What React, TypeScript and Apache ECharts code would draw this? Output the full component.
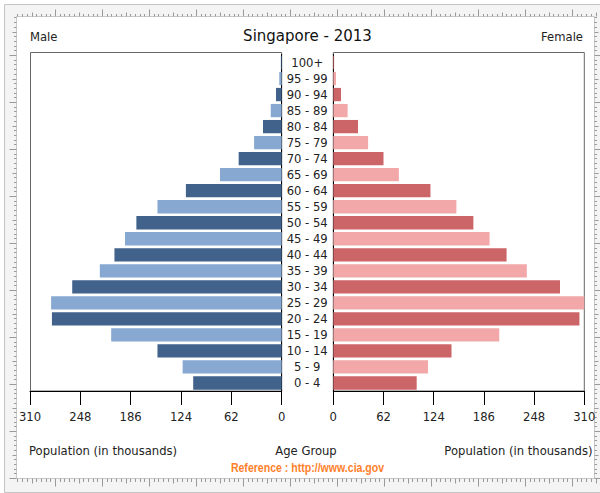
import React, { useEffect, useRef } from "react";
import * as echarts from "echarts";

const categories = [
  "0 - 4", "5 - 9", "10 - 14", "15 - 19", "20 - 24", "25 - 29", "30 - 34",
  "35 - 39", "40 - 44", "45 - 49", "50 - 54", "55 - 59", "60 - 64", "65 - 69",
  "70 - 74", "75 - 79", "80 - 84", "85 - 89", "90 - 94", "95 - 99", "100+",
];
const male = [109, 122, 153, 210, 283, 284, 258, 224, 206, 193, 179, 153, 118, 76, 53, 34, 23, 13.5, 7, 3, 1];
const female = [103, 117, 146, 205, 304, 310, 280, 239, 214, 193, 173, 152, 120, 81, 62, 43, 30.5, 17.7, 9.5, 3.3, 1];
const axisMax = 310;
const axisStep = 62;

const FONT = "DejaVu Sans";
const maleColors = ["#41628a", "#87a8d0"];
const femaleColors = ["#cc6567", "#f2a7a8"];

function rulerGraphics() {
  const els: any[] = [];
  const tickColor = "#9a9a9a";
  els.push({ type: "rect", shape: { x: 4.5, y: 4.5, width: 600, height: 488 }, style: { fill: "#f4f4f4", stroke: "#c4c4c4", lineWidth: 1 }, silent: true });
  els.push({ type: "rect", shape: { x: 16.5, y: 16.5, width: 578, height: 462 }, style: { fill: "#ffffff", stroke: "#c8c8c8", lineWidth: 1 }, silent: true });
  const step = 4.7;
  const start = 8;
  for (let i = 0; ; i++) {
    const x = start + i * step;
    if (x > 600) break;
    if (x < 17) continue;
    const m = i % 10;
    const len = m === 0 ? 7 : m === 5 ? 4 : 2.5;
    const xx = Math.round(x) + 0.5;
    els.push({ type: "line", shape: { x1: xx, y1: 16.5, x2: xx, y2: 16.5 - len }, style: { stroke: tickColor, lineWidth: 1 }, silent: true });
    els.push({ type: "line", shape: { x1: xx, y1: 478.5, x2: xx, y2: 478.5 + len + 1 }, style: { stroke: tickColor, lineWidth: 1 }, silent: true });
  }
  for (let i = 0; ; i++) {
    const y = start + i * step;
    if (y > 478) break;
    if (y < 17) continue;
    const m = i % 10;
    const len = m === 0 ? 7 : m === 5 ? 4 : 2.5;
    const yy = Math.round(y) + 0.5;
    els.push({ type: "line", shape: { x1: 16.5, y1: yy, x2: 16.5 - len, y2: yy }, style: { stroke: tickColor, lineWidth: 1 }, silent: true });
    els.push({ type: "line", shape: { x1: 594.5, y1: yy, x2: 594.5 + len, y2: yy }, style: { stroke: tickColor, lineWidth: 1 }, silent: true });
  }
  els.push({ type: "rect", shape: { x: 30.5, y: 52.5, width: 251.2, height: 338.5 }, style: { fill: "#ffffff", stroke: "#666", lineWidth: 1 }, silent: true });
  els.push({ type: "rect", shape: { x: 333.3, y: 52.5, width: 251, height: 338.5 }, style: { fill: "#ffffff", stroke: "#666", lineWidth: 1 }, silent: true });
  return els;
}

export default function App() {
  const ref = useRef<HTMLDivElement>(null);
  useEffect(() => {
    if (!ref.current) return;
    const chart = echarts.init(ref.current, null, { renderer: "svg" });
    const textStyle = { fill: "#222", font: `11.6px '${FONT}'` };
    const xAxisCommon = {
      type: "value", min: 0, max: axisMax, interval: axisStep,
      axisLine: { show: true, lineStyle: { color: "#000", width: 1 } },
      axisTick: { show: true, length: 14, lineStyle: { color: "#000" } },
      splitLine: { show: false },
      axisLabel: { color: "#222", fontSize: 11.6, fontFamily: FONT, margin: 20, showMinLabel: true, showMaxLabel: true },
    };
    const option: any = {
      animation: false,
      backgroundColor: "#ffffff",
      textStyle: { fontFamily: FONT },
      grid: [
        { left: 30, right: 318.3, top: 54.5, bottom: 102, show: false, containLabel: false },
        { left: 333.3, right: 15.7, top: 54.5, bottom: 102, show: false, containLabel: false },
      ],
      xAxis: [
        { ...xAxisCommon, gridIndex: 0, inverse: true },
        { ...xAxisCommon, gridIndex: 1 },
      ],
      yAxis: [
        {
          gridIndex: 0, type: "category", data: categories, position: "right",
          axisLine: { show: true, onZero: false, lineStyle: { color: "#000" } },
          axisTick: { show: false },
          axisLabel: { color: "#222", fontSize: 11.6, fontFamily: FONT, align: "center", margin: 25.5, interval: 0, padding: [7, 0, 0, 0] },
        },
        {
          gridIndex: 1, type: "category", data: categories, position: "left",
          axisLine: { show: true, onZero: false, lineStyle: { color: "#000" } },
          axisTick: { show: false },
          axisLabel: { show: false },
        },
      ],
      series: [
        {
          type: "bar", name: "Male", xAxisIndex: 0, yAxisIndex: 0, data: male,
          barCategoryGap: "17%",
          itemStyle: { color: (p: any) => maleColors[p.dataIndex % 2] },
        },
        {
          type: "bar", name: "Female", xAxisIndex: 1, yAxisIndex: 1, data: female,
          barCategoryGap: "17%",
          itemStyle: { color: (p: any) => femaleColors[p.dataIndex % 2] },
        },
      ],
      graphic: [
        { type: "group", z: -10, children: rulerGraphics(), silent: true },
        { type: "text", x: 30, y: 37, style: { ...textStyle, text: "Male", textAlign: "left", textVerticalAlign: "middle" } },
        { type: "text", x: 583, y: 37, style: { ...textStyle, text: "Female", textAlign: "right", textVerticalAlign: "middle" } },
        { type: "text", x: 307.5, y: 36, style: { fill: "#111", font: `15px '${FONT}'`, text: "Singapore - 2013", textAlign: "center", textVerticalAlign: "middle" } },
        { type: "text", x: 29, y: 451, style: { ...textStyle, text: "Population (in thousands)", textAlign: "left", textVerticalAlign: "middle" } },
        { type: "text", x: 592.5, y: 451, style: { ...textStyle, text: "Population (in thousands)", textAlign: "right", textVerticalAlign: "middle" } },
        { type: "text", x: 306, y: 451, style: { ...textStyle, text: "Age Group", textAlign: "center", textVerticalAlign: "middle" } },
        { type: "text", x: 307.5, y: 468, scaleX: 0.88, style: { fill: "#ff7f2a", font: `bold 12px 'Liberation Sans'`, text: "Reference : http://www.cia.gov", textAlign: "center", textVerticalAlign: "middle" } },
      ],
    };
    chart.setOption(option);
    return () => chart.dispose();
  }, []);
  return <div ref={ref} style={{ position: "fixed", left: 0, top: 0, width: 600, height: 493 }} />;
}
